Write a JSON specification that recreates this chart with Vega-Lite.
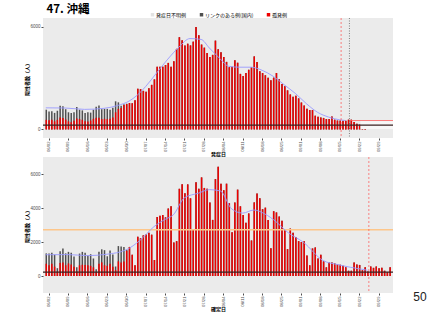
{
  "$schema": "https://vega.github.io/schema/vega-lite/v6.json",
  "background": "white",
  "padding": {"left": 24, "top": 3, "right": 0, "bottom": 0},
  "title": {"text": "47. 沖縄", "anchor": "start", "dx": 22, "fontSize": 11.5, "font": "Noto Sans CJK JP", "fontWeight": "bold", "color": "#000000", "offset": -3},
  "spacing": -1,
  "config": {
    "view": {"fill": "#ebebeb", "stroke": null},
    "axis": {"labelFont": "Liberation Sans", "labelFontSize": 4.5, "labelColor": "#4d4d4d", "tickColor": "#4d4d4d", "tickSize": 2, "domain": false, "grid": false, "titleFont": "Noto Sans CJK JP", "titleFontSize": 5, "titleFontWeight": "bold", "titleColor": "#000000", "labelPadding": 1, "titlePadding": 0.5, "labelOverlap": false, "labelSeparation": 0, "labelBound": false, "format": "d"},
    "axisX": {"labelOverlap": false, "labelFontSize": 4.2}
  },
  "resolve": {"scale": {"color": "independent"}, "legend": {"color": "independent"}},
  "datasets": {
    "onset": [
      {"d":"2022-06-01","tot":1150,"red":560},{"d":"2022-06-02","tot":1040,"red":540},{"d":"2022-06-03","tot":1060,"red":560},{"d":"2022-06-04","tot":965,"red":470},{"d":"2022-06-05","tot":1090,"red":560},{"d":"2022-06-06","tot":1380,"red":700},{"d":"2022-06-07","tot":1350,"red":660},{"d":"2022-06-08","tot":1180,"red":580},{"d":"2022-06-09","tot":1000,"red":470},{"d":"2022-06-10","tot":965,"red":420},{"d":"2022-06-11","tot":1000,"red":500},{"d":"2022-06-12","tot":1310,"red":640},{"d":"2022-06-13","tot":1150,"red":600},{"d":"2022-06-14","tot":1110,"red":560},{"d":"2022-06-15","tot":965,"red":480},{"d":"2022-06-16","tot":1000,"red":460},{"d":"2022-06-17","tot":980,"red":520},{"d":"2022-06-18","tot":1150,"red":620},{"d":"2022-06-19","tot":1330,"red":680},{"d":"2022-06-20","tot":1400,"red":680},{"d":"2022-06-21","tot":1180,"red":600},{"d":"2022-06-22","tot":1200,"red":620},{"d":"2022-06-23","tot":1200,"red":600},{"d":"2022-06-24","tot":1150,"red":620},{"d":"2022-06-25","tot":1270,"red":700},{"d":"2022-06-26","tot":1640,"red":1000},{"d":"2022-06-27","tot":1580,"red":1200},{"d":"2022-06-28","tot":1380,"red":1250},{"d":"2022-06-29","tot":1470,"red":1420},{"d":"2022-06-30","tot":1500,"red":1480},
      {"d":"2022-07-01","tot":1540,"red":1540},{"d":"2022-07-02","tot":1520,"red":1520},{"d":"2022-07-03","tot":1700,"red":1700},{"d":"2022-07-04","tot":2380,"red":2380},{"d":"2022-07-05","tot":2350,"red":2350},{"d":"2022-07-06","tot":2250,"red":2250},{"d":"2022-07-07","tot":2200,"red":2200},{"d":"2022-07-08","tot":2400,"red":2400},{"d":"2022-07-09","tot":2600,"red":2600},{"d":"2022-07-10","tot":2920,"red":2920},{"d":"2022-07-11","tot":3660,"red":3660},{"d":"2022-07-12","tot":3660,"red":3660},{"d":"2022-07-13","tot":3660,"red":3660},{"d":"2022-07-14","tot":3760,"red":3760},{"d":"2022-07-15","tot":3880,"red":3880},{"d":"2022-07-16","tot":3660,"red":3660},{"d":"2022-07-17","tot":3970,"red":3970},{"d":"2022-07-18","tot":4700,"red":4700},{"d":"2022-07-19","tot":5380,"red":5380},{"d":"2022-07-20","tot":5200,"red":5200},{"d":"2022-07-21","tot":4900,"red":4900},{"d":"2022-07-22","tot":5000,"red":5000},{"d":"2022-07-23","tot":4900,"red":4900},{"d":"2022-07-24","tot":5120,"red":5120},{"d":"2022-07-25","tot":5970,"red":5970},{"d":"2022-07-26","tot":5500,"red":5500},{"d":"2022-07-27","tot":4950,"red":4950},{"d":"2022-07-28","tot":4770,"red":4770},{"d":"2022-07-29","tot":4460,"red":4460},{"d":"2022-07-30","tot":4220,"red":4220},{"d":"2022-07-31","tot":4350,"red":4350},
      {"d":"2022-08-01","tot":5180,"red":5180},{"d":"2022-08-02","tot":4680,"red":4680},{"d":"2022-08-03","tot":4500,"red":4500},{"d":"2022-08-04","tot":4220,"red":4220},{"d":"2022-08-05","tot":3940,"red":3940},{"d":"2022-08-06","tot":3630,"red":3630},{"d":"2022-08-07","tot":3660,"red":3660},{"d":"2022-08-08","tot":4030,"red":4030},{"d":"2022-08-09","tot":3890,"red":3890},{"d":"2022-08-10","tot":3240,"red":3240},{"d":"2022-08-11","tot":3110,"red":3110},{"d":"2022-08-12","tot":3290,"red":3290},{"d":"2022-08-13","tot":3480,"red":3480},{"d":"2022-08-14","tot":3630,"red":3630},{"d":"2022-08-15","tot":4260,"red":4260},{"d":"2022-08-16","tot":3940,"red":3940},{"d":"2022-08-17","tot":3390,"red":3390},{"d":"2022-08-18","tot":3290,"red":3290},{"d":"2022-08-19","tot":3160,"red":3160},{"d":"2022-08-20","tot":3020,"red":3020},{"d":"2022-08-21","tot":2870,"red":2870},{"d":"2022-08-22","tot":3020,"red":3020},{"d":"2022-08-23","tot":3290,"red":3290},{"d":"2022-08-24","tot":2920,"red":2920},{"d":"2022-08-25","tot":2650,"red":2650},{"d":"2022-08-26","tot":2520,"red":2520},{"d":"2022-08-27","tot":2280,"red":2280},{"d":"2022-08-28","tot":2040,"red":2040},{"d":"2022-08-29","tot":1910,"red":1910},{"d":"2022-08-30","tot":1960,"red":1960},{"d":"2022-08-31","tot":1810,"red":1810},
      {"d":"2022-09-01","tot":1570,"red":1570},{"d":"2022-09-02","tot":1390,"red":1390},{"d":"2022-09-03","tot":1200,"red":1200},{"d":"2022-09-04","tot":1130,"red":1130},{"d":"2022-09-05","tot":1130,"red":1130},{"d":"2022-09-06","tot":800,"red":800},{"d":"2022-09-07","tot":740,"red":740},{"d":"2022-09-08","tot":700,"red":700},{"d":"2022-09-09","tot":670,"red":670},{"d":"2022-09-10","tot":610,"red":610},{"d":"2022-09-11","tot":610,"red":610},{"d":"2022-09-12","tot":760,"red":760},{"d":"2022-09-13","tot":570,"red":570},{"d":"2022-09-14","tot":520,"red":520},{"d":"2022-09-15","tot":520,"red":520},{"d":"2022-09-16","tot":500,"red":500},{"d":"2022-09-17","tot":500,"red":500},{"d":"2022-09-18","tot":570,"red":570},{"d":"2022-09-19","tot":570,"red":570},{"d":"2022-09-20","tot":430,"red":430},{"d":"2022-09-21","tot":330,"red":330},{"d":"2022-09-22","tot":280,"red":280},{"d":"2022-09-23","tot":150,"red":150},{"d":"2022-09-24","tot":40,"red":40}
    ],
    "confirmed": [
      {"d":"2022-06-01","tot":1330,"red":720},{"d":"2022-06-02","tot":1330,"red":630},{"d":"2022-06-03","tot":1370,"red":720},{"d":"2022-06-04","tot":1250,"red":550},{"d":"2022-06-05","tot":460,"red":260},{"d":"2022-06-06","tot":1450,"red":770},{"d":"2022-06-07","tot":1620,"red":800},{"d":"2022-06-08","tot":1330,"red":630},{"d":"2022-06-09","tot":1420,"red":740},{"d":"2022-06-10","tot":1370,"red":680},{"d":"2022-06-11","tot":1150,"red":550},{"d":"2022-06-12","tot":510,"red":260},{"d":"2022-06-13","tot":1320,"red":630},{"d":"2022-06-14","tot":1420,"red":660},{"d":"2022-06-15","tot":1370,"red":650},{"d":"2022-06-16","tot":1200,"red":630},{"d":"2022-06-17","tot":1280,"red":600},{"d":"2022-06-18","tot":1030,"red":510},{"d":"2022-06-19","tot":390,"red":220},{"d":"2022-06-20","tot":1420,"red":720},{"d":"2022-06-21","tot":1570,"red":800},{"d":"2022-06-22","tot":1520,"red":630},{"d":"2022-06-23","tot":1160,"red":600},{"d":"2022-06-24","tot":1500,"red":720},{"d":"2022-06-25","tot":1270,"red":550},{"d":"2022-06-26","tot":560,"red":340},{"d":"2022-06-27","tot":1760,"red":860},{"d":"2022-06-28","tot":1740,"red":800},{"d":"2022-06-29","tot":1710,"red":860},{"d":"2022-06-30","tot":1540,"red":1490},
      {"d":"2022-07-01","tot":1710,"red":1710},{"d":"2022-07-02","tot":1250,"red":1250},{"d":"2022-07-03","tot":630,"red":630},{"d":"2022-07-04","tot":2310,"red":2310},{"d":"2022-07-05","tot":2220,"red":2220},{"d":"2022-07-06","tot":2390,"red":2390},{"d":"2022-07-07","tot":2440,"red":2440},{"d":"2022-07-08","tot":2550,"red":2550},{"d":"2022-07-09","tot":2430,"red":2430},{"d":"2022-07-10","tot":940,"red":940},{"d":"2022-07-11","tot":3470,"red":3470},{"d":"2022-07-12","tot":3540,"red":3540},{"d":"2022-07-13","tot":3590,"red":3590},{"d":"2022-07-14","tot":3450,"red":3450},{"d":"2022-07-15","tot":3970,"red":3970},{"d":"2022-07-16","tot":4100,"red":4100},{"d":"2022-07-17","tot":1970,"red":1970},{"d":"2022-07-18","tot":2050,"red":2050},{"d":"2022-07-19","tot":5130,"red":5130},{"d":"2022-07-20","tot":5390,"red":5390},{"d":"2022-07-21","tot":4870,"red":4870},{"d":"2022-07-22","tot":5390,"red":5390},{"d":"2022-07-23","tot":4570,"red":4570},{"d":"2022-07-24","tot":2740,"red":2740},{"d":"2022-07-25","tot":5510,"red":5510},{"d":"2022-07-26","tot":5130,"red":5130},{"d":"2022-07-27","tot":5800,"red":5800},{"d":"2022-07-28","tot":5180,"red":5180},{"d":"2022-07-29","tot":5130,"red":5130},{"d":"2022-07-30","tot":4330,"red":4330},{"d":"2022-07-31","tot":3300,"red":3300},
      {"d":"2022-08-01","tot":5700,"red":5700},{"d":"2022-08-02","tot":6420,"red":6420},{"d":"2022-08-03","tot":5430,"red":5430},{"d":"2022-08-04","tot":5050,"red":5050},{"d":"2022-08-05","tot":5430,"red":5430},{"d":"2022-08-06","tot":4280,"red":4280},{"d":"2022-08-07","tot":2570,"red":2570},{"d":"2022-08-08","tot":4330,"red":4330},{"d":"2022-08-09","tot":5080,"red":5080},{"d":"2022-08-10","tot":4100,"red":4100},{"d":"2022-08-11","tot":3590,"red":3590},{"d":"2022-08-12","tot":3130,"red":3130},{"d":"2022-08-13","tot":3680,"red":3680},{"d":"2022-08-14","tot":2090,"red":2090},{"d":"2022-08-15","tot":4330,"red":4330},{"d":"2022-08-16","tot":4850,"red":4850},{"d":"2022-08-17","tot":4570,"red":4570},{"d":"2022-08-18","tot":3930,"red":3930},{"d":"2022-08-19","tot":4020,"red":4020},{"d":"2022-08-20","tot":3300,"red":3300},{"d":"2022-08-21","tot":1630,"red":1630},{"d":"2022-08-22","tot":3810,"red":3810},{"d":"2022-08-23","tot":3740,"red":3740},{"d":"2022-08-24","tot":3500,"red":3500},{"d":"2022-08-25","tot":3250,"red":3250},{"d":"2022-08-26","tot":2740,"red":2740},{"d":"2022-08-27","tot":1580,"red":1580},{"d":"2022-08-28","tot":2790,"red":2790},{"d":"2022-08-29","tot":2550,"red":2550},{"d":"2022-08-30","tot":2300,"red":2300},{"d":"2022-08-31","tot":2050,"red":2050},
      {"d":"2022-09-01","tot":2000,"red":2000},{"d":"2022-09-02","tot":2050,"red":2050},{"d":"2022-09-03","tot":1200,"red":1200},{"d":"2022-09-04","tot":630,"red":630},{"d":"2022-09-05","tot":1620,"red":1620},{"d":"2022-09-06","tot":1680,"red":1680},{"d":"2022-09-07","tot":1030,"red":1030},{"d":"2022-09-08","tot":1250,"red":1250},{"d":"2022-09-09","tot":860,"red":860},{"d":"2022-09-10","tot":510,"red":510},{"d":"2022-09-11","tot":800,"red":800},{"d":"2022-09-12","tot":800,"red":800},{"d":"2022-09-13","tot":740,"red":740},{"d":"2022-09-14","tot":680,"red":680},{"d":"2022-09-15","tot":660,"red":660},{"d":"2022-09-16","tot":600,"red":600},{"d":"2022-09-17","tot":510,"red":510},{"d":"2022-09-18","tot":310,"red":310},{"d":"2022-09-19","tot":310,"red":310},{"d":"2022-09-20","tot":800,"red":800},{"d":"2022-09-21","tot":680,"red":680},{"d":"2022-09-22","tot":650,"red":650},{"d":"2022-09-23","tot":340,"red":340},{"d":"2022-09-24","tot":510,"red":510},{"d":"2022-09-25","tot":260,"red":260},{"d":"2022-09-26","tot":560,"red":560},{"d":"2022-09-27","tot":480,"red":480},{"d":"2022-09-28","tot":560,"red":560},{"d":"2022-09-29","tot":460,"red":460},{"d":"2022-09-30","tot":480,"red":480},{"d":"2022-10-01","tot":310,"red":310},{"d":"2022-10-02","tot":220,"red":220},{"d":"2022-10-03","tot":510,"red":510}
    ],
    "maTop": [
      {"d":"2022-06-01","v":1260},{"d":"2022-06-08","v":1250},{"d":"2022-06-15","v":1170},{"d":"2022-06-22","v":1230},{"d":"2022-06-27","v":1400},{"d":"2022-07-01","v":1650},{"d":"2022-07-04","v":2000},{"d":"2022-07-07","v":2500},{"d":"2022-07-11","v":3300},{"d":"2022-07-15","v":4100},{"d":"2022-07-19","v":4800},{"d":"2022-07-23","v":5300},{"d":"2022-07-27","v":5250},{"d":"2022-07-30","v":4750},{"d":"2022-08-03","v":4100},{"d":"2022-08-06","v":3680},{"d":"2022-08-10","v":3630},{"d":"2022-08-14","v":3630},{"d":"2022-08-18","v":3450},{"d":"2022-08-22","v":3100},{"d":"2022-08-26","v":2600},{"d":"2022-08-30","v":2100},{"d":"2022-09-03","v":1500},{"d":"2022-09-07","v":1000},{"d":"2022-09-11","v":720},{"d":"2022-09-15","v":560},{"d":"2022-09-17","v":520}
    ],
    "maBot": [
      {"d":"2022-06-01","v":1250},{"d":"2022-06-09","v":1260},{"d":"2022-06-16","v":1200},{"d":"2022-06-23","v":1280},{"d":"2022-06-30","v":1540},{"d":"2022-07-05","v":2100},{"d":"2022-07-10","v":2900},{"d":"2022-07-14","v":3330},{"d":"2022-07-17","v":3600},{"d":"2022-07-21","v":4600},{"d":"2022-07-26","v":4870},{"d":"2022-07-30","v":5080},{"d":"2022-08-03","v":5000},{"d":"2022-08-07","v":3950},{"d":"2022-08-11","v":3700},{"d":"2022-08-15","v":3880},{"d":"2022-08-19","v":3650},{"d":"2022-08-23","v":3200},{"d":"2022-08-27","v":2600},{"d":"2022-09-02","v":1970},{"d":"2022-09-09","v":910},{"d":"2022-09-14","v":680},{"d":"2022-09-19","v":510},{"d":"2022-09-25","v":340}
    ],
    "bandTop": [{"d1":"2022-09-23","d2":"2022-10-05","lo":20,"hi":470}],
    "segTop": [{"d1":"2022-09-19","d2":"2022-10-05","y":520}],
    "baseTop": [{"y":250}],
    "baseBot": [{"y":225}],
    "orangeBot": [{"y":2718}],
    "redVTop": [{"d":"2022-09-16"}],
    "grayVTop": [{"d":"2022-09-19"}],
    "redVBot": [{"d":"2022-09-26"}]
  },
  "vconcat": [
    {
      "width": 350,
      "height": 120,
      "data": {"name": "onset"},
      "layer": [
        {
          "mark": {"type": "bar", "width": {"band": 0.9}},
          "encoding": {
            "x": {"field": "d", "type": "temporal", "timeUnit": "yearmonthdate",
              "scale": {"domain": [{"year": 2022, "month": 5, "date": 31, "hours": 12}, {"year": 2022, "month": 10, "date": 4, "hours": 17}]},
              "axis": {"labelOverlap": false, "labelFlush": false, "tickCount": {"interval": "day", "step": 1},
                "labelExpr": "day(datum.value) == 4 ? timeFormat(datum.value, '%m/%d') : ''",
                "tickOpacity": {"condition": {"test": "day(datum.value) == 4", "value": 1}, "value": 0},
                "tickOffset": 1.38, "labelAngle": -90, "title": "発症日"}},
            "y": {"field": "tot", "type": "quantitative", "stack": null, "scale": {"domain": [-250, 6400]},
              "axis": {"values": [0, 2000, 4000, 6000], "title": "陽性者数（人）"}},
            "color": {"datum": "リンクのある例(国内)", "type": "nominal",
              "scale": {"domain": ["発症日不明例", "リンクのある例(国内)", "孤発例"], "range": ["#e3e3e3", "#505050", "#ee0000"]},
              "legend": {"orient": "none", "legendX": 107, "legendY": -6, "direction": "horizontal", "title": null, "labelFontSize": 5, "labelFont": "Noto Sans CJK JP", "labelColor": "#000000", "symbolSize": 12, "symbolType": "square", "symbolStrokeWidth": 0, "columnPadding": 12, "padding": 0, "labelOffset": 1}}
          }
        },
        {
          "mark": {"type": "bar", "width": {"band": 0.9}},
          "encoding": {
            "x": {"field": "d", "type": "temporal", "timeUnit": "yearmonthdate"},
            "y": {"field": "red", "type": "quantitative", "stack": null},
            "color": {"datum": "孤発例", "type": "nominal"}
          }
        },
        {
          "data": {"name": "bandTop"},
          "mark": {"type": "rect", "color": "#f7f7f7", "clip": true},
          "encoding": {
            "x": {"field": "d1", "type": "temporal", "timeUnit": "yearmonthdate"},
            "x2": {"field": "d2"},
            "y": {"field": "lo", "type": "quantitative"},
            "y2": {"field": "hi"}
          }
        },
        {
          "data": {"name": "maTop"},
          "mark": {"type": "line", "color": "#9a9aff", "strokeWidth": 0.9, "interpolate": "monotone"},
          "encoding": {"x": {"field": "d", "type": "temporal", "timeUnit": "yearmonthdate", "bandPosition": 0.5}, "y": {"field": "v", "type": "quantitative"}}
        },
        {
          "data": {"name": "baseTop"},
          "mark": {"type": "rule", "color": "#3a2020", "strokeWidth": 1.2},
          "encoding": {"y": {"field": "y", "type": "quantitative"}}
        },
        {
          "data": {"name": "segTop"},
          "mark": {"type": "rule", "color": "#ff6060", "strokeWidth": 0.8, "clip": true},
          "encoding": {"x": {"field": "d1", "type": "temporal", "timeUnit": "yearmonthdate"}, "x2": {"field": "d2"}, "y": {"field": "y", "type": "quantitative"}}
        },
        {
          "data": {"name": "redVTop"},
          "mark": {"type": "rule", "color": "#ff5050", "strokeWidth": 0.7, "strokeDash": [2, 2]},
          "encoding": {"x": {"field": "d", "type": "temporal", "timeUnit": "yearmonthdate"}}
        },
        {
          "data": {"name": "grayVTop"},
          "mark": {"type": "rule", "color": "#555555", "strokeWidth": 0.7, "strokeDash": [1, 1.5]},
          "encoding": {"x": {"field": "d", "type": "temporal", "timeUnit": "yearmonthdate"}}
        }
      ]
    },
    {
      "width": 350,
      "height": 136,
      "data": {"name": "confirmed"},
      "title": {"text": "50", "orient": "bottom", "anchor": "end", "dx": 32, "dy": -20, "offset": 0, "fontSize": 12, "font": "Liberation Sans", "fontWeight": "normal", "color": "#222222"},
      "layer": [
        {
          "mark": {"type": "bar", "width": {"band": 0.9}},
          "encoding": {
            "x": {"field": "d", "type": "temporal", "timeUnit": "yearmonthdate",
              "scale": {"domain": [{"year": 2022, "month": 5, "date": 31, "hours": 12}, {"year": 2022, "month": 10, "date": 4, "hours": 17}]},
              "axis": {"labelOverlap": false, "labelFlush": false, "tickCount": {"interval": "day", "step": 1},
                "labelExpr": "day(datum.value) == 4 ? timeFormat(datum.value, '%m/%d') : ''",
                "tickOpacity": {"condition": {"test": "day(datum.value) == 4", "value": 1}, "value": 0},
                "tickOffset": 1.38, "labelAngle": -90, "title": "確定日"}},
            "y": {"field": "tot", "type": "quantitative", "stack": null, "scale": {"domain": [-260, 6720]},
              "axis": {"values": [0, 2000, 4000, 6000], "title": "陽性者数（人）"}},
            "color": {"datum": "リンクのある例(国内)", "type": "nominal",
              "scale": {"domain": ["発症日不明例", "リンクのある例(国内)", "孤発例"], "range": ["#e3e3e3", "#505050", "#ee0000"]},
              "legend": null}
          }
        },
        {
          "mark": {"type": "bar", "width": {"band": 0.9}},
          "encoding": {
            "x": {"field": "d", "type": "temporal", "timeUnit": "yearmonthdate"},
            "y": {"field": "red", "type": "quantitative", "stack": null},
            "color": {"datum": "孤発例", "type": "nominal"}
          }
        },
        {
          "data": {"name": "orangeBot"},
          "mark": {"type": "rule", "color": "#fdc68a", "strokeWidth": 1.5},
          "encoding": {"y": {"field": "y", "type": "quantitative"}}
        },
        {
          "data": {"name": "maBot"},
          "mark": {"type": "line", "color": "#9a9aff", "strokeWidth": 0.9, "interpolate": "monotone"},
          "encoding": {"x": {"field": "d", "type": "temporal", "timeUnit": "yearmonthdate", "bandPosition": 0.5}, "y": {"field": "v", "type": "quantitative"}}
        },
        {
          "data": {"name": "baseBot"},
          "mark": {"type": "rule", "color": "#3a2020", "strokeWidth": 1.2},
          "encoding": {"y": {"field": "y", "type": "quantitative"}}
        },
        {
          "data": {"name": "redVBot"},
          "mark": {"type": "rule", "color": "#ff5050", "strokeWidth": 0.7, "strokeDash": [2, 2]},
          "encoding": {"x": {"field": "d", "type": "temporal", "timeUnit": "yearmonthdate"}}
        }
      ]
    }
  ]
}
